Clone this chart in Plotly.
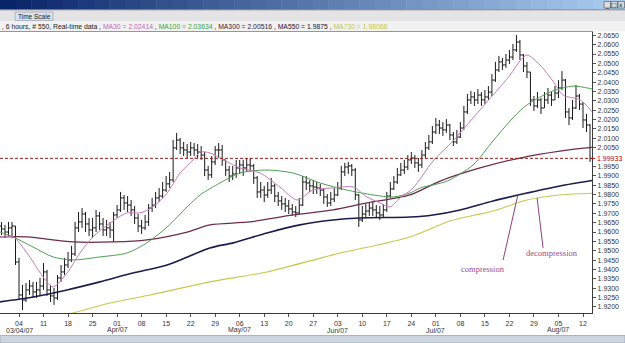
import plotly.graph_objects as go

# ---------------- data ----------------
# bar positions: days relative to Sunday 04 Mar 2007 (one bar per day)
days = list(range(-5, 164))

opens = [1.9632, 1.9616, 1.9600, 1.9622, 1.9632, 1.9440, 1.9264, 1.9237, 1.9291, 1.9312,
         1.9280, 1.9291, 1.9312, 1.9387, 1.9291, 1.9259, 1.9248, 1.9355, 1.9387, 1.9424,
         1.9451, 1.9483, 1.9622, 1.9654, 1.9696, 1.9643, 1.9611, 1.9622, 1.9686, 1.9643,
         1.9611, 1.9622, 1.9611, 1.9691, 1.9718, 1.9782, 1.9755, 1.9744, 1.9718, 1.9675,
         1.9632, 1.9622, 1.9654, 1.9728, 1.9744, 1.9782, 1.9792, 1.9824, 1.9857, 1.9878,
         2.0049, 2.0091, 2.0049, 2.0038, 2.0027, 2.0049, 2.0038, 2.0027, 2.0011, 1.9931,
         1.9905, 1.9974, 2.0038, 2.0038, 1.9985, 1.9931, 1.9899, 1.9910, 1.9942, 1.9958,
         1.9942, 1.9958, 1.9953, 1.9889, 1.9814, 1.9824, 1.9798, 1.9824, 1.9846, 1.9792,
         1.9766, 1.9750, 1.9739, 1.9723, 1.9707, 1.9702, 1.9744, 1.9867, 1.9862, 1.9846,
         1.9840, 1.9835, 1.9824, 1.9787, 1.9755, 1.9776, 1.9798, 1.9835, 1.9921, 1.9947,
         1.9953, 1.9931, 1.9798, 1.9664, 1.9696, 1.9712, 1.9728, 1.9718, 1.9702, 1.9691,
         1.9718, 1.9792, 1.9830, 1.9867, 1.9905, 1.9931, 1.9947, 1.9985, 1.9995, 1.9969,
         1.9958, 2.0011, 2.0049, 2.0081, 2.0134, 2.0171, 2.0155, 2.0145, 2.0171, 2.0118,
         2.0081, 2.0107, 2.0155, 2.0241, 2.0305, 2.0321, 2.0305, 2.0331, 2.0305, 2.0321,
         2.0347, 2.0411, 2.0465, 2.0508, 2.0492, 2.0518, 2.0534, 2.0572, 2.0614, 2.0545,
         2.0486, 2.0454, 2.0305, 2.0273, 2.0305, 2.0262, 2.0305, 2.0331, 2.0305, 2.0342,
         2.0369, 2.0411, 2.0241, 2.0209, 2.0262, 2.0326, 2.0283, 2.0198, 2.0171]

highs = [1.9654, 1.9638, 1.9654, 1.9654, 1.9632, 1.9462, 1.9318, 1.9328, 1.9344, 1.9334,
         1.9334, 1.9355, 1.9435, 1.9398, 1.9318, 1.9302, 1.9371, 1.9424, 1.9462, 1.9494,
         1.9526, 1.9654, 1.9707, 1.9728, 1.9707, 1.9675, 1.9675, 1.9718, 1.9707, 1.9675,
         1.9664, 1.9654, 1.9707, 1.9744, 1.9814, 1.9798, 1.9792, 1.9771, 1.9739, 1.9696,
         1.9664, 1.9691, 1.9750, 1.9782, 1.9814, 1.9835, 1.9867, 1.9899, 1.9921, 2.0091,
         2.0129, 2.0102, 2.0081, 2.0070, 2.0081, 2.0075, 2.0070, 2.0059, 2.0027, 1.9953,
         2.0006, 2.0059, 2.0075, 2.0065, 1.9985, 1.9953, 1.9953, 1.9985, 1.9985, 1.9985,
         1.9995, 1.9995, 1.9963, 1.9899, 1.9867, 1.9846, 1.9867, 1.9889, 1.9857, 1.9814,
         1.9792, 1.9782, 1.9771, 1.9750, 1.9739, 1.9782, 1.9899, 1.9899, 1.9878, 1.9878,
         1.9867, 1.9857, 1.9835, 1.9803, 1.9814, 1.9835, 1.9867, 1.9953, 1.9969, 1.9974,
         1.9963, 1.9942, 1.9803, 1.9739, 1.9750, 1.9760, 1.9760, 1.9744, 1.9739, 1.9750,
         1.9814, 1.9867, 1.9899, 1.9942, 1.9969, 1.9985, 2.0011, 2.0027, 2.0011, 1.9995,
         2.0038, 2.0081, 2.0118, 2.0166, 2.0209, 2.0198, 2.0187, 2.0203, 2.0177, 2.0134,
         2.0145, 2.0187, 2.0273, 2.0337, 2.0353, 2.0347, 2.0363, 2.0347, 2.0358, 2.0379,
         2.0443, 2.0508, 2.0540, 2.0529, 2.0550, 2.0572, 2.0604, 2.0652, 2.0625, 2.0550,
         2.0508, 2.0454, 2.0326, 2.0347, 2.0315, 2.0347, 2.0369, 2.0347, 2.0379, 2.0411,
         2.0459, 2.0417, 2.0262, 2.0305, 2.0385, 2.0337, 2.0294, 2.0230, 2.0177]

lows = [1.9584, 1.9568, 1.9579, 1.9568, 1.9424, 1.9237, 1.9184, 1.9227, 1.9264, 1.9248,
        1.9248, 1.9259, 1.9291, 1.9259, 1.9227, 1.9211, 1.9237, 1.9334, 1.9371, 1.9408,
        1.9440, 1.9472, 1.9600, 1.9622, 1.9600, 1.9579, 1.9568, 1.9600, 1.9611, 1.9579,
        1.9579, 1.9568, 1.9547, 1.9675, 1.9707, 1.9718, 1.9707, 1.9686, 1.9643, 1.9600,
        1.9590, 1.9611, 1.9632, 1.9707, 1.9728, 1.9760, 1.9782, 1.9814, 1.9835, 1.9867,
        2.0038, 2.0016, 2.0006, 1.9995, 2.0006, 2.0006, 1.9995, 1.9985, 1.9899, 1.9878,
        1.9889, 1.9958, 1.9995, 1.9953, 1.9899, 1.9867, 1.9878, 1.9889, 1.9910, 1.9899,
        1.9921, 1.9921, 1.9857, 1.9782, 1.9782, 1.9760, 1.9782, 1.9803, 1.9760, 1.9739,
        1.9718, 1.9707, 1.9696, 1.9686, 1.9680, 1.9696, 1.9739, 1.9824, 1.9814, 1.9803,
        1.9803, 1.9792, 1.9750, 1.9734, 1.9739, 1.9760, 1.9792, 1.9824, 1.9899, 1.9910,
        1.9899, 1.9771, 1.9627, 1.9654, 1.9675, 1.9686, 1.9686, 1.9675, 1.9664, 1.9675,
        1.9707, 1.9782, 1.9824, 1.9857, 1.9899, 1.9910, 1.9931, 1.9963, 1.9942, 1.9921,
        1.9942, 1.9995, 2.0038, 2.0070, 2.0123, 2.0123, 2.0113, 2.0129, 2.0091, 2.0059,
        2.0070, 2.0102, 2.0145, 2.0230, 2.0283, 2.0273, 2.0283, 2.0273, 2.0283, 2.0305,
        2.0326, 2.0401, 2.0454, 2.0465, 2.0476, 2.0497, 2.0518, 2.0561, 2.0518, 2.0454,
        2.0422, 2.0273, 2.0246, 2.0262, 2.0230, 2.0262, 2.0283, 2.0273, 2.0305, 2.0315,
        2.0358, 2.0209, 2.0171, 2.0198, 2.0257, 2.0251, 2.0155, 2.0134, 1.9974]

closes = [1.9616, 1.9600, 1.9622, 1.9632, 1.9440, 1.9264, 1.9237, 1.9291, 1.9312, 1.9280,
          1.9291, 1.9312, 1.9387, 1.9291, 1.9259, 1.9248, 1.9355, 1.9387, 1.9424, 1.9451,
          1.9483, 1.9622, 1.9654, 1.9696, 1.9643, 1.9611, 1.9622, 1.9686, 1.9643, 1.9611,
          1.9622, 1.9611, 1.9691, 1.9718, 1.9782, 1.9755, 1.9744, 1.9718, 1.9675, 1.9632,
          1.9622, 1.9654, 1.9728, 1.9744, 1.9782, 1.9792, 1.9824, 1.9857, 1.9878, 2.0049,
          2.0091, 2.0049, 2.0038, 2.0027, 2.0049, 2.0038, 2.0027, 2.0011, 1.9931, 1.9905,
          1.9974, 2.0038, 2.0038, 1.9985, 1.9931, 1.9899, 1.9910, 1.9942, 1.9958, 1.9942,
          1.9958, 1.9953, 1.9889, 1.9814, 1.9824, 1.9798, 1.9824, 1.9846, 1.9792, 1.9766,
          1.9750, 1.9739, 1.9723, 1.9707, 1.9702, 1.9744, 1.9867, 1.9862, 1.9846, 1.9840,
          1.9835, 1.9824, 1.9787, 1.9755, 1.9776, 1.9798, 1.9835, 1.9921, 1.9947, 1.9953,
          1.9931, 1.9798, 1.9664, 1.9696, 1.9712, 1.9728, 1.9718, 1.9702, 1.9691, 1.9718,
          1.9792, 1.9830, 1.9867, 1.9905, 1.9931, 1.9947, 1.9985, 1.9995, 1.9969, 1.9958,
          2.0011, 2.0049, 2.0081, 2.0134, 2.0171, 2.0155, 2.0145, 2.0171, 2.0118, 2.0081,
          2.0107, 2.0155, 2.0241, 2.0305, 2.0321, 2.0305, 2.0331, 2.0305, 2.0321, 2.0347,
          2.0411, 2.0465, 2.0508, 2.0492, 2.0518, 2.0534, 2.0572, 2.0614, 2.0545, 2.0486,
          2.0454, 2.0305, 2.0273, 2.0305, 2.0262, 2.0305, 2.0331, 2.0305, 2.0342, 2.0369,
          2.0411, 2.0241, 2.0209, 2.0262, 2.0326, 2.0283, 2.0198, 2.0171, 1.99933]

# moving averages (day, price)
ma30_days = [-5.4, -1.7, 2.3, 6.9, 9.7, 13.7, 17.4, 21.1, 26.0, 30.8, 34.5, 38.3, 42.3, 46.0,
             49.7, 51.7, 54.5, 57.4, 63.1, 68.8, 74.5, 79.4, 83.9, 89.6, 95.4, 99.3, 103.1,
             105.9, 108.8, 112.5, 118.2, 123.9, 129.6, 135.3, 140.2, 143.0, 145.0, 148.7,
             152.4, 155.3, 160.2, 163.6]
ma30_vals = [1.9574, 1.9574, 1.9488, 1.9360, 1.9307, 1.9381, 1.9488, 1.9574, 1.9648, 1.9702,
             1.9702, 1.9734, 1.9808, 1.9915, 1.9985, 2.0027, 2.0022, 1.9995, 1.9942, 1.9915,
             1.9840, 1.9771, 1.9824, 1.9835, 1.9840, 1.9787, 1.9755, 1.9734, 1.9782, 1.9835,
             1.9979, 2.0086, 2.0209, 2.0331, 2.0438, 2.0513, 2.0545, 2.0492, 2.0406, 2.0331,
             2.0305, 2.02414]

ma100_days = [-5.4, -1.7, 4.0, 9.7, 15.4, 23.1, 30.8, 36.5, 42.3, 48.0, 51.7, 57.4, 63.1,
              70.8, 78.2, 85.9, 93.6, 101.1, 106.8, 111.6, 114.5, 122.2, 129.6, 135.3, 140.2,
              143.9, 146.7, 152.4, 158.2, 162.2, 163.6]
ma100_vals = [1.9600, 1.9574, 1.9520, 1.9467, 1.9451, 1.9467, 1.9488, 1.9542, 1.9627, 1.9734,
              1.9798, 1.9862, 1.9915, 1.9931, 1.9915, 1.9862, 1.9824, 1.9798, 1.9787, 1.9808,
              1.9835, 1.9872, 1.9958, 2.0086, 2.0193, 2.0262, 2.0299, 2.0353, 2.0379, 2.0369,
              2.03634]

ma300_days = [-5.4, 2.3, 15.4, 26.8, 36.5, 48.0, 54.5, 65.9, 78.2, 89.6, 99.3, 111.6, 120.2,
              131.6, 143.0, 154.4, 163.6]
ma300_vals = [1.9574, 1.9574, 1.9547, 1.9547, 1.9558, 1.9600, 1.9638, 1.9654, 1.9691, 1.9718,
              1.9755, 1.9798, 1.9872, 1.9942, 1.9995, 2.0032, 2.00516]

ma550_days = [-5.4, 4.0, 13.7, 23.1, 32.5, 42.3, 54.5, 61.1, 70.8, 80.2, 89.6, 97.3, 111.6,
              118.2, 125.9, 135.3, 145.0, 154.4, 163.6]
ma550_vals = [1.9227, 1.9253, 1.9291, 1.9334, 1.9381, 1.9424, 1.9515, 1.9542, 1.9595, 1.9638,
              1.9664, 1.9675, 1.9680, 1.9691, 1.9718, 1.9766, 1.9808, 1.9846, 1.9875]

ma730_days = [-5.4, 15.4, 26.0, 37.4, 54.5, 70.8, 89.6, 111.6, 123.0, 135.3, 145.0, 154.4, 163.6]
ma730_vals = [1.9061, 1.9168, 1.9221, 1.9264, 1.9334, 1.9387, 1.9478, 1.9574, 1.9659, 1.9712,
              1.9771, 1.9798, 1.98068]

last_price = 1.99933

xtick_days = [0, 7, 14, 21, 28, 35, 42, 49, 56, 63, 70, 77, 84, 91, 98, 105, 112, 119, 126,
              133, 140, 147, 154, 161]
xtick_text = ["04", "11", "18", "25", "01", "08", "15", "22", "29", "06", "13", "20", "27",
              "03", "10", "17", "24", "01", "08", "15", "22", "29", "05", "12"]
month_days = [0, 28, 63, 91, 119, 154]
month_text = ["03/04/07", "Apr/07", "May/07", "Jun/07", "Jul/07", "Aug/07"]

ytick_text = ["1.9200", "1.9250", "1.9300", "1.9350", "1.9400", "1.9450", "1.9500", "1.9550",
              "1.9600", "1.9650", "1.9700", "1.9750", "1.9800", "1.9850", "1.9900", "1.9950",
              "2.0050", "2.0100", "2.0150", "2.0200", "2.0250", "2.0300", "2.0350",
              "2.0400", "2.0450", "2.0500", "2.0550", "2.0600", "2.0650"]
ytick_vals = [float(t) for t in ytick_text]

# ---------------- figure ----------------
W, H = 625, 343
ML, MR, MT, MB = 0, 33, 32, 30
PW, PH = W - ML - MR, H - MT - MB


def px(xp):
    return (xp - ML) / PW


def py(yp):
    return (H - MB - yp) / PH


fig = go.Figure()

ma_specs = [
    (ma730_days, ma730_vals, "#c8c84c", 1.1),
    (ma550_days, ma550_vals, "#1c1c4c", 1.6),
    (ma300_days, ma300_vals, "#6e2c4c", 1.3),
    (ma100_days, ma100_vals, "#4f9f52", 1.0),
    (ma30_days, ma30_vals, "#c47cbc", 1.0),
]

fig.add_trace(go.Ohlc(
    x=days, open=opens, high=highs, low=lows, close=closes,
    increasing=dict(line=dict(color="#1a1a1a", width=1)),
    decreasing=dict(line=dict(color="#1a1a1a", width=1)),
    tickwidth=0.5, hoverinfo="skip", showlegend=False))

for d, v, c, w in ma_specs:
    fig.add_trace(go.Scatter(x=d, y=v, mode="lines",
                             line=dict(color=c, width=w, shape="spline", smoothing=0.8),
                             hoverinfo="skip", showlegend=False))

shapes = []
annos = []

# window title bar gradient
n = 40
c0, c1 = (10, 36, 106), (170, 204, 240)
for i in range(n):
    t = i / (n - 1)
    col = "rgb(%d,%d,%d)" % tuple(int(a + (b - a) * t) for a, b in zip(c0, c1))
    shapes.append(dict(type="rect", xref="paper", yref="paper",
                       x0=px(W * i / n), x1=px(W * (i + 1) / n + 0.5),
                       y0=py(9.5), y1=py(0), fillcolor=col, line=dict(width=0), layer="below"))
# window buttons
for bx, sym in [(604, "_"), (611, "□"), (618, "x")]:
    shapes.append(dict(type="rect", xref="paper", yref="paper", x0=px(bx), x1=px(bx + 6.5),
                       y0=py(8), y1=py(1.5), fillcolor="#dcdcdc",
                       line=dict(color="#505050", width=0.6)))
    annos.append(dict(xref="paper", yref="paper", x=px(bx + 3.25), y=py(4.8), text=sym,
                      xanchor="center", yanchor="middle",
                      showarrow=False, font=dict(size=6, color="#111", family="DejaVu Sans")))
# separator + toolbar band + info band
shapes.append(dict(type="rect", xref="paper", yref="paper", x0=px(0), x1=px(W),
                   y0=py(10.5), y1=py(9.5), fillcolor="#5a5a5a", line=dict(width=0)))
shapes.append(dict(type="rect", xref="paper", yref="paper", x0=px(0), x1=px(W),
                   y0=py(21), y1=py(10.5), fillcolor="#e4e4e6", line=dict(width=0)))
shapes.append(dict(type="rect", xref="paper", yref="paper", x0=px(0), x1=px(W),
                   y0=py(31.5), y1=py(21), fillcolor="#f1f1f1", line=dict(width=0)))
# Time Scale button
shapes.append(dict(type="rect", xref="paper", yref="paper", x0=px(15), x1=px(53),
                   y0=py(20.5), y1=py(12), fillcolor="#dbe0e9",
                   line=dict(color="#a3abb8", width=0.8)))
annos.append(dict(xref="paper", yref="paper", x=px(34), y=py(16.3), text="Time Scale",
                  xanchor="center", yanchor="middle",
                  showarrow=False, font=dict(size=6.5, color="#222", family="Liberation Sans")))

# info line
info = (", 6 hours, # 550, Real-time data , "
        "<span style='color:#c866b8'>MA30 = 2.02414</span> , "
        "<span style='color:#3f9f45'>MA100 = 2.03634</span> , "
        "<span style='color:#3a1a2c'>MA300 = 2.00516</span> , "
        "<span style='color:#111133'>MA550 = 1.9875</span> , "
        "<span style='color:#c8c84c'>MA730 = 1.98068</span>")
annos.append(dict(xref="paper", yref="paper", x=px(0), y=py(26), xanchor="left",
                  yanchor="middle", text=info, showarrow=False,
                  font=dict(size=6.8, color="#222", family="Liberation Sans")))

# bottom scroll band
shapes.append(dict(type="rect", xref="paper", yref="paper", x0=px(0), x1=px(W),
                   y0=py(H), y1=py(335.5), fillcolor="#cdd5e1",
                   line=dict(color="#9aa6b8", width=0.8)))

# last price dashed line + red label
shapes.append(dict(type="line", xref="paper", yref="y", x0=0, x1=1,
                   y0=last_price, y1=last_price,
                   line=dict(color="#9a1818", width=1, dash="3px,2px")))
shapes.append(dict(type="line", xref="paper", yref="y", x0=1, x1=px(ML + PW + 3),
                   y0=last_price, y1=last_price, line=dict(color="#c00000", width=1)))
annos.append(dict(xref="paper", yref="y", x=px(ML + PW + 3), y=last_price, xanchor="left",
                  yanchor="middle", text="%.5f" % last_price, showarrow=False,
                  font=dict(size=7, color="#c00000", family="Liberation Sans")))

# month labels
for d, t in zip(month_days, month_text):
    annos.append(dict(xref="x", yref="paper", x=d, y=py(330), text=t, showarrow=False,
                      xanchor="center", yanchor="middle",
                      font=dict(size=7, color="#333", family="Liberation Sans")))

# hand-drawn notes
note_col = "#9a4a8e"
shapes.append(dict(type="line", xref="x", yref="y", x0=138.2, y0=1.9451, x1=142.4, y1=1.9798,
                   line=dict(color="#8e3f82", width=1)))
shapes.append(dict(type="line", xref="x", yref="y", x0=149.6, y0=1.9515, x1=147.9, y1=1.9782,
                   line=dict(color="#8e3f82", width=1)))
annos.append(dict(xref="x", yref="y", x=132.5, y=1.9403, text="compression", showarrow=False,
                  xanchor="center", yanchor="middle",
                  font=dict(size=8.5, color=note_col, family="Liberation Serif")))
annos.append(dict(xref="x", yref="y", x=152.2, y=1.9488, text="decompression", showarrow=False,
                  xanchor="center", yanchor="middle",
                  font=dict(size=8.5, color=note_col, family="Liberation Serif")))

fig.update_layout(
    width=W, height=H,
    margin=dict(l=ML, r=MR, t=MT, b=MB, pad=0),
    paper_bgcolor="white", plot_bgcolor="white",
    showlegend=False, hovermode=False,
    shapes=shapes, annotations=annos,
    xaxis=dict(range=[-5.424, 163.57], tickvals=xtick_days, ticktext=xtick_text,
               ticks="outside", ticklen=3, tickcolor="#555", showline=True,
               linecolor="#3c3c3c", linewidth=1.3, mirror=True, showgrid=False,
               zeroline=False, rangeslider=dict(visible=False),
               tickfont=dict(size=7, color="#333", family="Liberation Sans")),
    yaxis=dict(range=[1.91678, 2.06676], side="right", tickvals=ytick_vals,
               ticktext=ytick_text, ticks="outside", ticklen=3, tickcolor="#555",
               showline=True, linecolor="#3c3c3c", linewidth=1.3, mirror=False,
               showgrid=False, zeroline=False,
               tickfont=dict(size=7, color="#333", family="Liberation Sans")),
)

fig.write_html("out.html")
